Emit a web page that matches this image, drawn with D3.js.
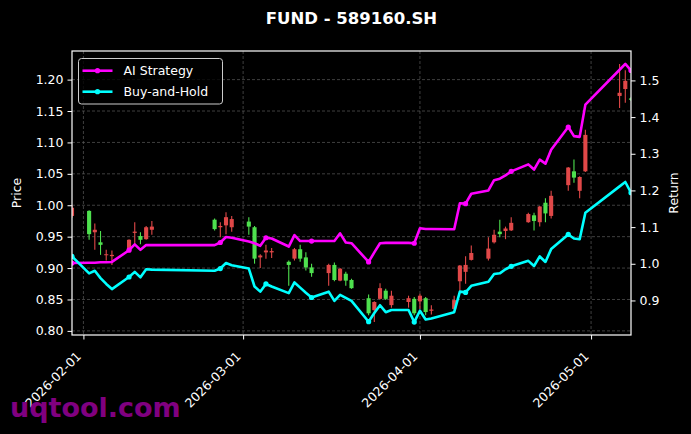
<!DOCTYPE html>
<html>
<head>
<meta charset="utf-8">
<script src="https://cdn.jsdelivr.net/npm/d3@7"></script>
<style>
  html, body { margin: 0; padding: 0; background: #000; }
  svg { display: block; font-family: "DejaVu Sans", sans-serif; }
</style>
</head>
<body>
<svg id="chart" width="691" height="434"></svg>
<script>
// trading days shown on the chart
const dates = [
  "2026-01-30",
  "2026-02-02", "2026-02-03", "2026-02-04", "2026-02-05", "2026-02-06",
  "2026-02-09", "2026-02-10", "2026-02-11", "2026-02-12", "2026-02-13",
  "2026-02-24", "2026-02-25", "2026-02-26", "2026-02-27",
  "2026-03-02", "2026-03-03", "2026-03-04", "2026-03-05", "2026-03-06",
  "2026-03-09", "2026-03-10", "2026-03-11", "2026-03-12", "2026-03-13",
  "2026-03-16", "2026-03-17", "2026-03-18", "2026-03-19", "2026-03-20",
  "2026-03-23", "2026-03-24", "2026-03-25", "2026-03-26", "2026-03-27",
  "2026-03-30", "2026-03-31", "2026-04-01", "2026-04-02", "2026-04-03",
  "2026-04-07", "2026-04-08", "2026-04-09", "2026-04-10",
  "2026-04-13", "2026-04-14", "2026-04-15", "2026-04-16", "2026-04-17",
  "2026-04-20", "2026-04-21", "2026-04-22", "2026-04-23", "2026-04-24",
  "2026-04-27", "2026-04-28", "2026-04-29", "2026-04-30",
  "2026-05-06", "2026-05-07", "2026-05-08"
];

const opens = [
  0.983,
  0.991, 0.957, 0.941, 0.921, 0.919,
  0.928, 0.956, 0.951, 0.946, 0.961,
  0.977, 0.965, 0.968, 0.965,
  0.974, 0.965, 0.917, 0.925, 0.925,
  0.910, 0.915, 0.930, 0.917, 0.901,
  0.892, 0.905, 0.880, 0.891, 0.881,
  0.852, 0.833, 0.851, 0.864, 0.841,
  0.846, 0.851, 0.847, 0.852, 0.832,
  0.835, 0.879, 0.894, 0.913,
  0.915, 0.941, 0.958, 0.959, 0.960,
  0.973, 0.984, 0.973, 1.004, 0.983,
  1.032, 1.054, 1.023, 1.054,
  1.174, 1.185, 1.170
];
const highs = [
  1.000,
  0.992, 0.971, 0.959, 0.929, 0.928,
  0.946, 0.973, 0.957, 0.967, 0.975,
  0.979, 0.973, 0.989, 0.983,
  0.981, 0.967, 0.922, 0.937, 0.932,
  0.912, 0.932, 0.937, 0.925, 0.907,
  0.907, 0.909, 0.900, 0.894, 0.883,
  0.858, 0.847, 0.876, 0.867, 0.864,
  0.856, 0.854, 0.859, 0.854, 0.841,
  0.856, 0.905, 0.919, 0.936,
  0.949, 0.961, 0.977, 0.966, 0.981,
  0.988, 0.988, 0.999, 1.011, 1.023,
  1.061, 1.073, 1.046, 1.120,
  1.225, 1.215, 1.172
];
const lows = [
  0.980,
  0.945, 0.929, 0.921, 0.912, 0.905,
  0.926, 0.938, 0.938, 0.945, 0.953,
  0.960, 0.949, 0.954, 0.958,
  0.953, 0.907, 0.900, 0.915, 0.916,
  0.872, 0.912, 0.910, 0.896, 0.886,
  0.872, 0.879, 0.879, 0.872, 0.867,
  0.825, 0.814, 0.850, 0.849, 0.837,
  0.837, 0.825, 0.835, 0.825, 0.826,
  0.834, 0.864, 0.875, 0.912,
  0.912, 0.939, 0.949, 0.946, 0.959,
  0.972, 0.960, 0.966, 0.973, 0.979,
  1.023, 1.036, 1.011, 1.053,
  1.155, 1.163, 1.166
];
const closes = [
  0.996,
  0.954, 0.961, 0.937, 0.922, 0.921,
  0.945, 0.958, 0.945, 0.965, 0.966,
  0.962, 0.967, 0.981, 0.978,
  0.966, 0.915, 0.920, 0.928, 0.927,
  0.905, 0.930, 0.915, 0.901, 0.892,
  0.905, 0.881, 0.899, 0.880, 0.868,
  0.828, 0.846, 0.868, 0.851, 0.856,
  0.852, 0.828, 0.856, 0.830, 0.834,
  0.849, 0.904, 0.905, 0.924,
  0.931, 0.953, 0.954, 0.963, 0.972,
  0.986, 0.975, 0.998, 0.987, 1.015,
  1.060, 1.044, 1.045, 1.112,
  1.179, 1.198, 1.168
];

// cumulative return lines (right axis)
const aiReturn = [
  1.002,
  1.003, 1.003, 1.004, 1.004, 1.005,
  1.037, 1.053, 1.038, 1.051, 1.051,
  1.051, 1.058, 1.073, 1.071,
  1.061, 1.056, 1.049, 1.071, 1.069,
  1.047, 1.078, 1.062, 1.062, 1.062,
  1.062, 1.062, 1.083, 1.058, 1.056,
  1.005, 1.031, 1.056, 1.057, 1.057,
  1.057, 1.056, 1.097, 1.095, 1.095,
  1.094, 1.165, 1.164, 1.191,
  1.200, 1.228, 1.232, 1.241, 1.252,
  1.271, 1.257, 1.284, 1.273, 1.311,
  1.373, 1.348, 1.346, 1.434,
  1.529, 1.545, 1.527
];
const bhReturn = [
  1.020,
  0.974, 0.981, 0.961, 0.945, 0.931,
  0.964, 0.978, 0.963, 0.985, 0.984,
  0.981, 0.987, 1.002, 0.996,
  0.987, 0.938, 0.924, 0.945, 0.938,
  0.920, 0.949, 0.935, 0.921, 0.908,
  0.924, 0.899, 0.915, 0.907, 0.899,
  0.842, 0.866, 0.887, 0.868, 0.874,
  0.874, 0.841, 0.872, 0.848, 0.851,
  0.868, 0.924, 0.922, 0.940,
  0.951, 0.972, 0.974, 0.985, 0.993,
  1.008, 0.994, 1.020, 1.005, 1.040,
  1.080, 1.069, 1.067, 1.139,
  1.211, 1.223, 1.194
];

const priceTicks = [0.80, 0.85, 0.90, 0.95, 1.00, 1.05, 1.10, 1.15, 1.20];
const returnTicks = [0.9, 1.0, 1.1, 1.2, 1.3, 1.4, 1.5];
const dateTicks = ["2026-02-01", "2026-03-01", "2026-04-01", "2026-05-01"];
const seriesNames = ["AI Strategy", "Buy-and-Hold"];

(function () {
  const W = 691, H = 434;
  const m = { top: 51, right: 60, bottom: 99, left: 72 };
  const iw = W - m.left - m.right, ih = H - m.top - m.bottom;
  const UP = "#e04848", DOWN = "#4ee04e";
  const AI_COLOR = "#ff00ff", BH_COLOR = "#00ffff";
  const TXT = "#ffffff";

  const parse = d3.timeParse("%Y-%m-%d");
  const days = dates.map(parse);
  const candles = days.map((d, i) => ({ d, o: opens[i], h: highs[i], l: lows[i], c: closes[i] }));

  const x = d3.scaleTime().domain(d3.extent(days)).range([m.left, m.left + iw]);

  const lo = d3.min(lows), hi = d3.max(highs), pp = (hi - lo) * 0.05;
  const yP = d3.scaleLinear().domain([lo - pp, hi + pp]).range([m.top + ih, m.top]);

  const allRet = aiReturn.concat(bhReturn);
  const rlo = d3.min(allRet), rhi = d3.max(allRet), rp = (rhi - rlo) * 0.05;
  const yR = d3.scaleLinear().domain([rlo - rp, rhi + rp]).range([m.top + ih, m.top]);

  const svg = d3.select("#chart");
  svg.append("rect").attr("width", W).attr("height", H).attr("fill", "#000");

  svg.append("defs").append("clipPath").attr("id", "plotClip")
    .append("rect").attr("x", m.left).attr("y", m.top).attr("width", iw).attr("height", ih);

  // grid
  const grid = svg.append("g").attr("stroke", "#5a5a5a").attr("stroke-width", 0.7).attr("stroke-dasharray", "3,2");
  priceTicks.forEach(t => {
    grid.append("line").attr("x1", m.left).attr("x2", m.left + iw)
      .attr("y1", yP(t)).attr("y2", yP(t));
  });
  dateTicks.forEach(t => {
    const xx = x(parse(t));
    grid.append("line").attr("x1", xx).attr("x2", xx).attr("y1", m.top).attr("y2", m.top + ih);
  });

  const plot = svg.append("g").attr("clip-path", "url(#plotClip)");

  // candlesticks
  const dayMs = 864e5;
  const bw = x(new Date(days[0].getTime() + 0.72 * dayMs)) - x(days[0]);
  const cg = plot.append("g");
  candles.forEach(k => {
    const col = k.c >= k.o ? UP : DOWN;
    const cx = x(k.d);
    cg.append("line").attr("x1", cx).attr("x2", cx)
      .attr("y1", yP(k.h)).attr("y2", yP(k.l))
      .attr("stroke", col).attr("stroke-width", 1.1);
    const top = yP(Math.max(k.o, k.c)), bot = yP(Math.min(k.o, k.c));
    cg.append("rect").attr("x", cx - bw / 2).attr("width", bw)
      .attr("y", top).attr("height", Math.max(1, bot - top))
      .attr("fill", col);
  });

  // return lines
  const lines = [
    { name: seriesNames[0], vals: aiReturn, color: AI_COLOR },
    { name: seriesNames[1], vals: bhReturn, color: BH_COLOR }
  ];
  lines.forEach(s => {
    const line = d3.line().x((v, i) => x(days[i])).y(v => yR(v));
    plot.append("path").attr("d", line(s.vals))
      .attr("fill", "none").attr("stroke", s.color).attr("stroke-width", 2.6)
      .attr("stroke-linejoin", "round");
    plot.selectAll(null).data(s.vals.map((v, i) => [i, v]).filter(p => p[0] % 6 === 0))
      .enter().append("circle")
      .attr("cx", p => x(days[p[0]])).attr("cy", p => yR(p[1])).attr("r", 2.6)
      .attr("fill", s.color);
  });

  // frame
  svg.append("rect").attr("x", m.left).attr("y", m.top).attr("width", iw).attr("height", ih)
    .attr("fill", "none").attr("stroke", TXT).attr("stroke-width", 1.2);

  // axes
  const styleAxis = g => {
    g.select(".domain").remove();
    g.selectAll(".tick line").attr("stroke", TXT).attr("stroke-width", 1);
    g.selectAll(".tick text").attr("fill", TXT).style("font-size", "12.5px")
      .style("font-family", "DejaVu Sans, sans-serif");
  };
  svg.append("g").attr("transform", `translate(${m.left},0)`)
    .call(d3.axisLeft(yP).tickValues(priceTicks).tickFormat(d3.format(".2f")).tickSize(4.5).tickPadding(4))
    .call(styleAxis);
  svg.append("g").attr("transform", `translate(${m.left + iw},0)`)
    .call(d3.axisRight(yR).tickValues(returnTicks).tickFormat(d3.format(".1f")).tickSize(4.5).tickPadding(4))
    .call(styleAxis);
  const xa = svg.append("g").attr("transform", `translate(0,${m.top + ih})`)
    .call(d3.axisBottom(x).tickValues(dateTicks.map(parse)).tickFormat(d3.timeFormat("%Y-%m-%d")).tickSize(4.5))
    .call(styleAxis);
  xa.selectAll(".tick text")
    .attr("text-anchor", "end").attr("dy", null).attr("y", null)
    .attr("transform", "translate(-2,22) rotate(-45)");

  // axis labels
  svg.append("text").attr("transform", `translate(21,${m.top + ih / 2}) rotate(-90)`)
    .attr("text-anchor", "middle").attr("fill", TXT).style("font-size", "12.5px").text("Price");
  svg.append("text").attr("transform", `translate(678,${m.top + ih / 2}) rotate(-90)`)
    .attr("text-anchor", "middle").attr("fill", TXT).style("font-size", "12.5px").text("Return");

  // title
  svg.append("text").attr("x", m.left + iw / 2).attr("y", 24)
    .attr("text-anchor", "middle").attr("fill", TXT)
    .style("font-size", "16.5px").style("font-weight", "bold").text("FUND - 589160.SH");

  // legend
  const lg = svg.append("g").attr("transform", "translate(78.5,58.5)");
  lg.append("rect").attr("width", 144).attr("height", 45.5).attr("rx", 3)
    .attr("fill", "#000").attr("fill-opacity", 0.8).attr("stroke", "#cccccc").attr("stroke-width", 1);
  lines.forEach((s, i) => {
    const yy = 12.2 + i * 21;
    lg.append("line").attr("x1", 4).attr("x2", 34).attr("y1", yy).attr("y2", yy)
      .attr("stroke", s.color).attr("stroke-width", 2.6);
    lg.append("circle").attr("cx", 19).attr("cy", yy).attr("r", 2.6).attr("fill", s.color);
    lg.append("text").attr("x", 45).attr("y", yy + 4.5).attr("fill", TXT)
      .style("font-size", "12.5px").text(s.name);
  });

  // watermark
  svg.append("text").attr("x", 10).attr("y", 417).attr("fill", "#800080")
    .style("font-size", "27px").style("font-weight", "bold").text("uqtool.com");
})();
</script>
</body>
</html>
